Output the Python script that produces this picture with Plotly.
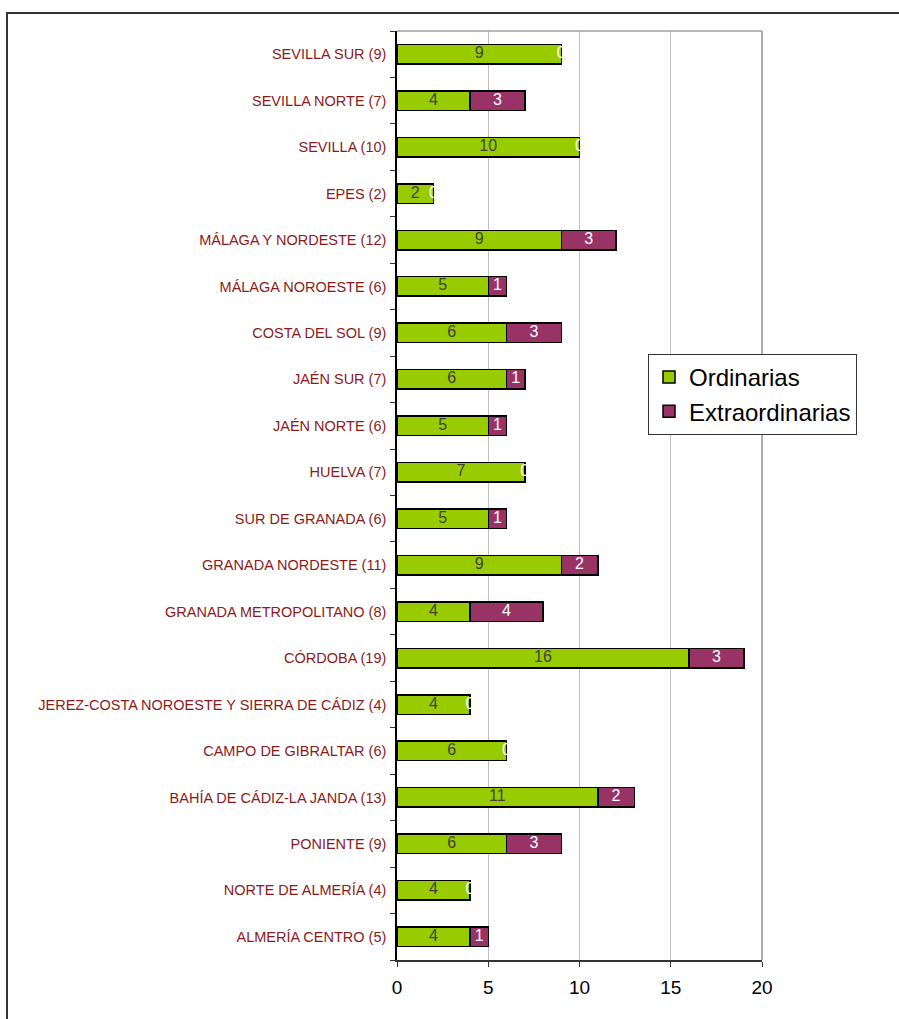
import plotly.graph_objects as go

categories = [
    "ALMERÍA CENTRO (5)", "NORTE DE ALMERÍA (4)", "PONIENTE (9)",
    "BAHÍA DE CÁDIZ-LA JANDA (13)", "CAMPO DE GIBRALTAR (6)",
    "JEREZ-COSTA NOROESTE Y SIERRA DE CÁDIZ (4)", "CÓRDOBA (19)",
    "GRANADA METROPOLITANO (8)", "GRANADA NORDESTE (11)", "SUR DE GRANADA (6)",
    "HUELVA (7)", "JAÉN NORTE (6)", "JAÉN SUR (7)", "COSTA DEL SOL (9)",
    "MÁLAGA NOROESTE (6)", "MÁLAGA Y NORDESTE (12)", "EPES (2)", "SEVILLA (10)",
    "SEVILLA NORTE (7)", "SEVILLA SUR (9)",
]
ordinarias = [4, 4, 6, 11, 6, 4, 16, 4, 9, 5, 7, 5, 6, 6, 5, 9, 2, 10, 4, 9]
extraordinarias = [1, 0, 3, 2, 0, 0, 3, 4, 2, 1, 0, 1, 1, 3, 1, 3, 0, 0, 3, 0]
x_ticks = [0, 5, 10, 15, 20]

W, H = 899, 1019
L, R, T, B = 397, 762, 31, 960
FONT = "Liberation Sans, Arial"

fig = go.Figure()
fig.add_trace(go.Bar(
    y=categories, x=ordinarias, orientation="h", name="Ordinarias",
    marker=dict(color="#99CC00", line=dict(color="#000000", width=1.5)),
    hoverinfo="x+y",
))
fig.add_trace(go.Bar(
    y=categories, x=extraordinarias, orientation="h", name="Extraordinarias",
    marker=dict(color="#993366", line=dict(color="#000000", width=1.5)),
    hoverinfo="x+y",
))
# value labels, centred in each segment (zero values sit at the bar end)
fig.add_trace(go.Scatter(
    y=categories, x=[o / 2 for o in ordinarias], mode="text",
    text=[str(o) for o in ordinarias], showlegend=False, hoverinfo="skip",
    textposition="middle center", cliponaxis=False,
    textfont=dict(family=FONT, size=16, color="#404040"),
))
fig.add_trace(go.Scatter(
    y=categories, x=[o + e / 2 for o, e in zip(ordinarias, extraordinarias)],
    mode="text", text=[str(e) for e in extraordinarias], showlegend=False,
    hoverinfo="skip", textposition="middle center", cliponaxis=False,
    textfont=dict(family=FONT, size=16, color="#FFFFFF"),
))

def px(x):
    return (x - L) / (R - L)

def py(y):
    return (B - y) / (B - T)

fig.update_layout(
    barmode="stack", bargap=0.58,
    width=W, height=H, autosize=False,
    margin=dict(l=L, r=W - R, t=T, b=H - B, pad=0),
    paper_bgcolor="#FFFFFF", plot_bgcolor="#FFFFFF",
    font=dict(family=FONT, color="#000000"),
    legend=dict(
        x=px(648), y=py(354), xanchor="left", yanchor="top",
        bgcolor="#FFFFFF", bordercolor="#333333", borderwidth=1,
        font=dict(size=24, color="#000000"), traceorder="normal",
        itemwidth=30,
    ),
    xaxis=dict(
        range=[0, 20], tickvals=x_ticks, ticks="outside", ticklen=5,
        tickcolor="#333333", showgrid=True, gridcolor="#C0C0C0", gridwidth=1,
        showline=True, linecolor="#333333", linewidth=1.5, zeroline=False,
        tickfont=dict(size=19, color="#000000"), ticklabelstandoff=4,
        fixedrange=True,
    ),
    yaxis=dict(
        type="category", categoryorder="array", categoryarray=categories,
        range=[-0.5, len(categories) - 0.5],
        ticks="outside", ticklen=5, tickcolor="#333333", tickson="boundaries",
        showline=True, linecolor="#000000", linewidth=1.5, showgrid=False,
        tickfont=dict(size=14.5, color="#8B1A1A"), ticklabelstandoff=6,
        fixedrange=True,
    ),
    shapes=[
        dict(type="line", xref="paper", yref="paper", x0=0, x1=1, y0=1, y1=1,
             line=dict(color="#A0A0A0", width=1.5)),
        dict(type="line", xref="paper", yref="paper", x0=1, x1=1, y0=0, y1=1,
             line=dict(color="#909090", width=1.5)),
        dict(type="rect", xref="paper", yref="paper",
             x0=px(7), x1=px(905), y0=py(1030), y1=py(13),
             line=dict(color="#333333", width=2), fillcolor="rgba(0,0,0,0)"),
    ],
)

fig.write_html("out.html")
